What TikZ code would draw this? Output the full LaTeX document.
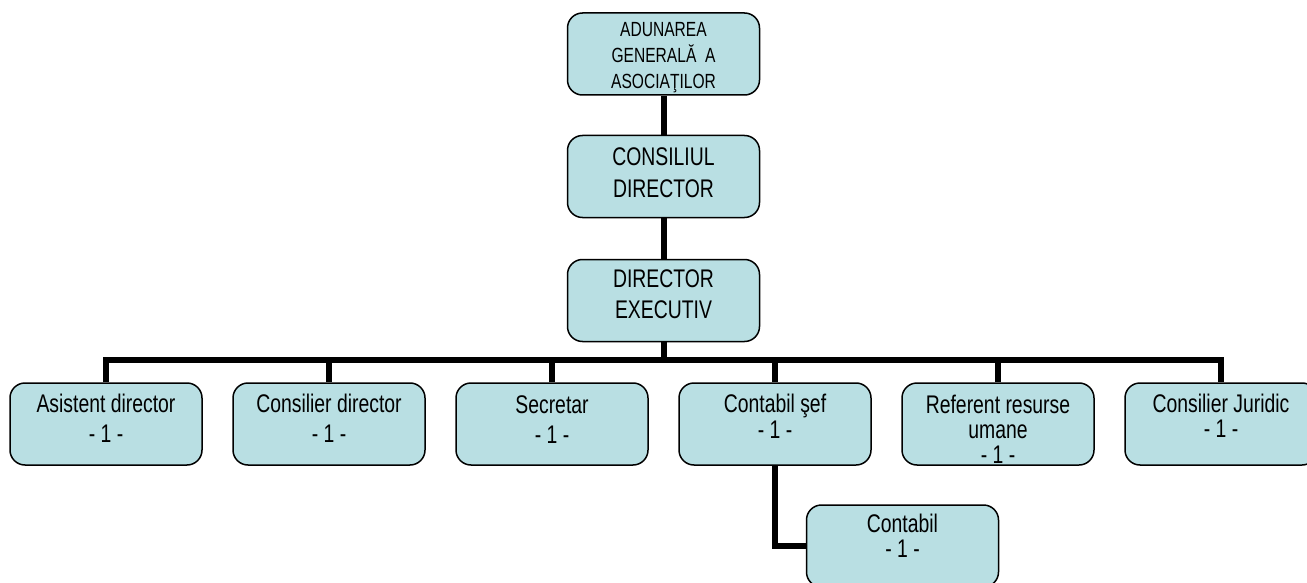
\documentclass[tikz,border=0pt]{standalone}
\usepackage{fontspec}
\setmainfont{Liberation Sans}[FakeStretch=0.76]
\definecolor{boxfill}{RGB}{185,223,227}

% text of a box: first baseline, line skip, lines
\newcommand{\unittext}[3]{\parbox[c][82pt][t]{192pt}{\centering\baselineskip=#2pt\rule{0pt}{#1pt}#3}}

\tikzset{
  unit/.style={draw,line width=1.5pt,rounded corners=15pt,fill=boxfill,
    inner sep=0pt,font=\fontsize{25.5}{29}\selectfont},
  link/.style={line width=6pt},
}

\begin{document}
\begin{tikzpicture}[x=1pt,y=-1pt]
    \useasboundingbox (0,0) rectangle (1307,583);
    % upper levels
    \node[unit,font=\fontsize{20.5}{26}\selectfont] (adunarea) at (663.5,54) {\unittext{24}{26}{ADUNAREA\\GENERALĂ\ \ A\\ASOCIAŢILOR}};
    \node[unit] (consiliu) at (663.5,176.5) {\unittext{30}{32}{CONSILIUL\\DIRECTOR}};
    \node[unit] (director) at (663.5,300.5) {\unittext{28}{31}{DIRECTOR\\EXECUTIV}};
    % departments
    \node[unit] (asistent) at (106,424) {\unittext{29}{30}{Asistent director\\- 1 -}};
    \node[unit] (consilier) at (329,424) {\unittext{29}{30}{Consilier director\\- 1 -}};
    \node[unit] (secretar) at (552,424) {\unittext{30}{30}{Secretar\\- 1 -}};
    \node[unit] (sef) at (775,424) {\unittext{29}{26}{Contabil şef\\- 1 -}};
    \node[unit] (referent) at (998,424) {\unittext{30}{25}{Referent resurse\\umane\\- 1 -}};
    \node[unit] (juridic) at (1221,424) {\unittext{29}{25}{Consilier Juridic\\- 1 -}};
    \node[unit] (contabil) at (902.5,546) {\unittext{27}{25}{Contabil\\- 1 -}};
    % connectors
    \coordinate (bus) at (663.5,360);
    \draw[link] (adunarea) -- (consiliu);
    \draw[link] (consiliu) -- (director);
    \draw[link] (director) -- (bus);
    \foreach \n in {asistent,consilier,secretar,sef,referent,juridic}
        \draw[link] (\n.north) |- (bus);
    \draw[link] (sef.south) |- (contabil.west);
\end{tikzpicture}
\end{document}
